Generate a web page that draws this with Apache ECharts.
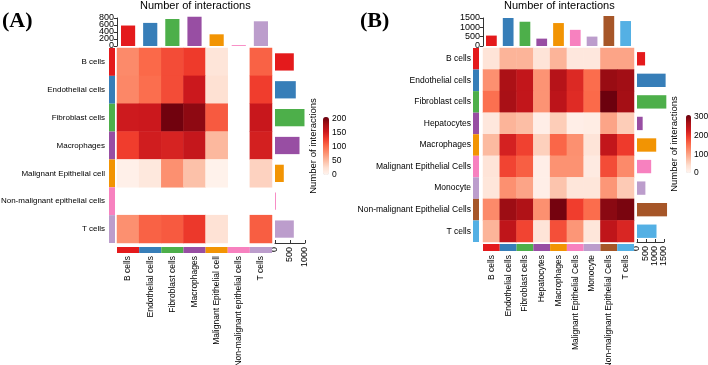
<!DOCTYPE html>
<html>
<head>
<meta charset="utf-8">
<script src="https://cdn.jsdelivr.net/npm/echarts@6/dist/echarts.min.js"></script>
<style>
  html, body { margin: 0; padding: 0; background: #fff; }
  #main { width: 708px; height: 365px; }
</style>
</head>
<body>
<div id="main"></div>
<script>
// ---- panel A data ----
var cellsA = ['B cells', 'Endothelial cells', 'Fibroblast cells', 'Macrophages',
  'Malignant Epithelial cell', 'Non-malignant epithelial cells', 'T cells'];
var matA = [
  [82, 103, 119, 129, 20, 0, 107],
  [84, 100, 119, 154, 25, 0, 127],
  [152, 154, 201, 189, 111, 0, 156],
  [127, 150, 146, 158, 53, 0, 148],
  [6, 16, 78, 47, 4, 0, 35],
  [0, 0, 0, 0, 0, 0, 0],
  [78, 107, 111, 130, 23, 0, 109]
];
var incomingA = [585, 660, 772, 836, 334, 25, 706];
var outgoingA = [627, 693, 983, 817, 293, 30, 627];
var topTicksA = ['0', '200', '400', '600', '800'];
var maxA = 205;

// ---- panel B data ----
var cellsB = ['B cells', 'Endothelial cells', 'Fibroblast cells', 'Hepatocytes', 'Macrophages',
  'Malignant Epithelial Cells', 'Monocyte', 'Non-malignant Epithelial Cells', 'T cells'];
var matB = [
  [31, 84, 84, 31, 84, 25, 25, 99, 99],
  [118, 264, 242, 115, 254, 214, 152, 279, 273],
  [149, 267, 242, 115, 248, 211, 155, 307, 271],
  [25, 84, 74, 12, 59, 12, 15, 99, 59],
  [78, 223, 189, 56, 158, 118, 31, 242, 195],
  [31, 186, 164, 12, 116, 116, 20, 180, 124],
  [28, 118, 99, 12, 68, 28, 28, 112, 62],
  [124, 276, 260, 118, 301, 192, 152, 288, 298],
  [84, 245, 186, 31, 177, 112, 28, 245, 217]
];
var incomingB = [558, 1500, 1300, 395, 1229, 866, 504, 1608, 1337];
var outgoingB = [449, 1590, 1629, 315, 1067, 787, 466, 1669, 1084];
var topTicksB = ['0', '500', '1000', '1500'];
var maxB = 310;

// ---- styles ----
var palA = ['#E41A1C', '#377EB8', '#4DAF4A', '#984EA3', '#F29403', '#F781BF', '#BC9DCC'];
var palB = ['#E41A1C', '#377EB8', '#4DAF4A', '#984EA3', '#F29403', '#F781BF', '#BC9DCC', '#A65628', '#54B0E4'];
var reds = ['#FFF5F0', '#FEE0D2', '#FCBBA1', '#FC9272', '#FB6A4A', '#EF3B2C', '#CB181D', '#A50F15', '#67000D'];
var FONT = 'Liberation Sans';
var txt = { color: '#000', fontFamily: FONT };
var plain = function (v) { return String(v); };

function heatData(mat) {
  var out = [];
  mat.forEach(function (row, i) {
    row.forEach(function (v, j) {
      if (v > 0) out.push([j, i, v]);   // zeros are NA -> left white
    });
  });
  return out;
}
function colored(vals, pal) {
  return vals.map(function (v, i) { return { value: v, itemStyle: { color: pal[i] } }; });
}

var chart = echarts.init(document.getElementById('main'), null, { renderer: 'canvas' });

var L = {
  A: { hm: [117, 48, 155, 195], top: [117, 18, 155, 28], right: [275, 48, 30, 195],
       lstrip: [109, 48, 6, 195], bstrip: [117, 247, 155, 6], leg: [323, 117, 6, 58],
       topMax: 800, rightMax: 1000, rightInt: 500, legInt: 50, legGap: 5, rowFont: 8 },
  B: { hm: [483, 48, 151, 194], top: [483, 18, 151, 28], right: [637, 48, 27, 194],
       lstrip: [473, 48, 6, 194], bstrip: [483, 244, 151, 7], leg: [686, 115, 5, 58],
       topMax: 1500, rightMax: 1500, rightInt: 500, legInt: 100, legGap: 7, rowFont: 8.5 }
};

var grid = [], xAxis = [], yAxis = [], series = [], visualMap = [];

function g(r) {
  return { left: r[0], top: r[1], width: r[2], height: r[3], containLabel: false, outerBoundsMode: 'none' };
}

function panel(key, cells, mat, incoming, outgoing, topTicks, pal, maxV) {
  var c = L[key];
  var g0 = grid.length;
  [c.hm, c.top, c.right, c.lstrip, c.bstrip, c.leg].forEach(function (r) { grid.push(g(r)); });

  // heatmap
  xAxis.push({ gridIndex: g0, type: 'category', data: cells, position: 'bottom',
    axisLine: { show: false }, axisTick: { show: false },
    axisLabel: Object.assign({ rotate: 90, fontSize: 8.5, margin: 13, interval: 0 }, txt) });
  yAxis.push({ gridIndex: g0, type: 'category', data: cells, inverse: true,
    axisLine: { show: false }, axisTick: { show: false },
    axisLabel: Object.assign({ fontSize: c.rowFont, margin: 12, interval: 0 }, txt) });
  var hmIndex = series.length;
  series.push({ type: 'heatmap', xAxisIndex: xAxis.length - 1, yAxisIndex: yAxis.length - 1,
    data: heatData(mat), emphasis: { disabled: true } });
  visualMap.push({ type: 'continuous', seriesIndex: hmIndex, min: 0, max: maxV,
    inRange: { color: reds }, calculable: false, orient: 'vertical',
    left: c.leg[0], top: c.leg[1], itemWidth: c.leg[2], itemHeight: c.leg[3], padding: 0 });

  // top bars (incoming): hidden value axis for the bars, category axis for the tick labels
  xAxis.push({ gridIndex: g0 + 1, type: 'category', data: cells, show: false });
  yAxis.push({ gridIndex: g0 + 1, type: 'value', min: 0, max: c.topMax, show: false });
  var barY = yAxis.length - 1;
  yAxis.push({ gridIndex: g0 + 1, type: 'category', data: topTicks, boundaryGap: false,
    position: 'left',
    axisLine: { show: true, lineStyle: { color: '#333' } },
    axisTick: { show: true, length: 3, interval: 0, lineStyle: { color: '#333' } },
    splitLine: { show: false },
    axisLabel: Object.assign({ fontSize: 9, margin: 3, interval: 0 }, txt) });
  series.push({ type: 'bar', xAxisIndex: xAxis.length - 1, yAxisIndex: barY,
    data: colored(incoming, pal), barWidth: '64%', clip: false });

  // right bars (outgoing)
  xAxis.push({ gridIndex: g0 + 2, type: 'value', min: 0, max: c.rightMax, interval: c.rightInt,
    position: 'bottom',
    axisLine: { show: true, lineStyle: { color: '#333' } },
    axisTick: { show: true, inside: true, length: 3, lineStyle: { color: '#333' } },
    splitLine: { show: false },
    axisLabel: Object.assign({ fontSize: 9, lineHeight: 5, margin: 4, rotate: 90, formatter: plain,
      showMinLabel: true, showMaxLabel: true, hideOverlap: false }, txt) });
  yAxis.push({ gridIndex: g0 + 2, type: 'category', data: cells, inverse: true, show: false });
  series.push({ type: 'bar', xAxisIndex: xAxis.length - 1, yAxisIndex: yAxis.length - 1,
    data: colored(outgoing, pal), barWidth: '62%', clip: false });

  // left colour strip
  xAxis.push({ gridIndex: g0 + 3, type: 'value', min: 0, max: 1, show: false });
  yAxis.push({ gridIndex: g0 + 3, type: 'category', data: cells, inverse: true, show: false });
  series.push({ type: 'bar', xAxisIndex: xAxis.length - 1, yAxisIndex: yAxis.length - 1,
    data: colored(cells.map(function () { return 1; }), pal), barWidth: '100%', silent: true });

  // bottom colour strip
  xAxis.push({ gridIndex: g0 + 4, type: 'category', data: cells, show: false });
  yAxis.push({ gridIndex: g0 + 4, type: 'value', min: 0, max: 1, show: false });
  series.push({ type: 'bar', xAxisIndex: xAxis.length - 1, yAxisIndex: yAxis.length - 1,
    data: colored(cells.map(function () { return 1; }), pal), barWidth: '100%', silent: true });

  // legend labels + title
  xAxis.push({ gridIndex: g0 + 5, type: 'value', show: false });
  yAxis.push({ gridIndex: g0 + 5, type: 'value', min: 0, max: maxV, interval: c.legInt,
    position: 'right', axisLine: { show: false }, axisTick: { show: false },
    splitLine: { show: false },
    axisLabel: Object.assign({ fontSize: 8.5, margin: 3, formatter: plain,
      showMinLabel: true, showMaxLabel: false, hideOverlap: false }, txt) });
  yAxis.push({ gridIndex: g0 + 5, type: 'value', min: 0, max: maxV, position: 'left',
    axisLine: { show: false }, axisTick: { show: false }, splitLine: { show: false },
    axisLabel: { show: false },
    name: 'Number of interactions', nameLocation: 'middle', nameGap: c.legGap,
    nameTextStyle: Object.assign({ fontSize: 9.5 }, txt) });
}

panel('A', cellsA, matA, incomingA, outgoingA, topTicksA, palA, maxA);
panel('B', cellsB, matB, incomingB, outgoingB, topTicksB, palB, maxB);

var option = {
  backgroundColor: '#fff',
  animation: false,
  title: [
    { text: '(A)', left: 2, top: 10, padding: 0,
      textStyle: { fontFamily: 'Liberation Serif', fontWeight: 'bold', fontSize: 22, color: '#000' } },
    { text: '(B)', left: 360, top: 10, padding: 0,
      textStyle: { fontFamily: 'Liberation Serif', fontWeight: 'bold', fontSize: 22, color: '#000' } },
    { text: 'Number of interactions', left: 140, top: 0, padding: 0,
      textStyle: { fontFamily: FONT, fontWeight: 'normal', fontSize: 11, color: '#000' } },
    { text: 'Number of interactions', left: 504, top: 0, padding: 0,
      textStyle: { fontFamily: FONT, fontWeight: 'normal', fontSize: 11, color: '#000' } }
  ],
  grid: grid,
  xAxis: xAxis,
  yAxis: yAxis,
  visualMap: visualMap,
  series: series
};

chart.setOption(option);

window.addEventListener('resize', function () {
  chart.resize();
});
</script>
</body>
</html>
